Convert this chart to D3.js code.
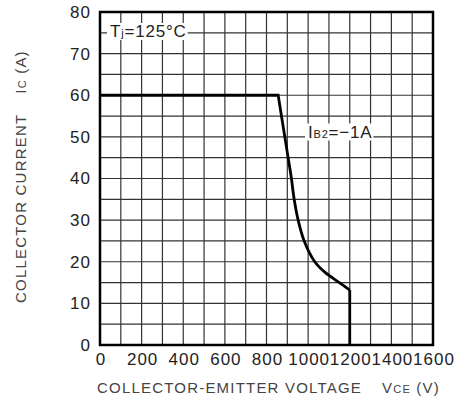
<!DOCTYPE html>
<html>
<head>
<meta charset="utf-8">
<script src="https://cdn.jsdelivr.net/npm/d3@7"></script>
<style>
  body { margin: 0; background: #fff; }
  text { font-family: "Liberation Sans", Arial, sans-serif; fill: #222; }
</style>
</head>
<body>
<div class="canvas"></div>
<script>
// data
var vce = [0, 856, 888, 920, 933, 952, 981, 1032, 1080, 1150, 1200, 1200];
var ic  = [60, 60, 50, 40, 35, 30, 25, 20, 17.5, 15, 13.2, 0];
var xTicks = [0, 200, 400, 600, 800, 1000, 1200, 1400, 1600];
var yTicks = [0, 10, 20, 30, 40, 50, 60, 70, 80];
var xGrid = d3.range(100, 1600, 100);
var yGrid = d3.range(5, 80, 5);

var plot = { left: 100, right: 433, top: 12, bottom: 345 };

var svg = d3.select(".canvas").append("svg").attr("width", 461).attr("height", 409);

var x = d3.scaleLinear().domain([0, 1600]).range([plot.left, plot.right]);
var y = d3.scaleLinear().domain([0, 80]).range([plot.bottom, plot.top]);

// grid
svg.append("g").selectAll("line").data(xGrid).join("line")
    .attr("x1", d => x(d)).attr("x2", d => x(d))
    .attr("y1", plot.top).attr("y2", plot.bottom)
    .attr("stroke", "#333").attr("stroke-width", 1.2);

svg.append("g").selectAll("line").data(yGrid).join("line")
    .attr("x1", plot.left).attr("x2", plot.right)
    .attr("y1", d => y(d)).attr("y2", d => y(d))
    .attr("stroke", "#333").attr("stroke-width", 1.2);

// labels sitting on the grid with white backing
function label(g, px, py, parts) {
    var t = g.append("text").attr("x", px).attr("y", py).attr("letter-spacing", "0.8px");
    parts.forEach(function (p) {
        t.append("tspan").attr("font-size", p[1] + "px").text(p[0]);
    });
    var b = t.node().getBBox();
    g.insert("rect", "text")
        .attr("x", b.x - 3).attr("y", b.y + 1)
        .attr("width", b.width + 4).attr("height", b.height - 2)
        .attr("fill", "#fff");
}
label(svg.append("g"), 110, 37, [["T", 17], ["j", 11], ["=125°C", 17]]);
label(svg.append("g"), 308, 137.5, [["I", 17], ["B2", 11], ["=\u22121A", 17]]);

// curve: straight drop, bend, vertical end
var pts = vce.map((v, i) => [v, ic[i]]);
var lin = d3.line().x(d => x(d[0])).y(d => y(d[1]));
var bend = d3.line().x(d => x(d[0])).y(d => y(d[1])).curve(d3.curveCatmullRom);
[lin(pts.slice(0, 4)), bend(pts.slice(3, 11)), lin(pts.slice(10))].forEach(function (p) {
    svg.append("path").attr("d", p)
        .attr("fill", "none").attr("stroke", "#000").attr("stroke-width", 2.8);
});

// frame
svg.append("rect")
    .attr("x", plot.left).attr("y", plot.top)
    .attr("width", plot.right - plot.left).attr("height", plot.bottom - plot.top)
    .attr("fill", "none").attr("stroke", "#000").attr("stroke-width", 2.5);

// axes
var xAxis = svg.append("g").attr("transform", "translate(0," + plot.bottom + ")")
    .call(d3.axisBottom(x).tickValues(xTicks).tickFormat(d3.format("d")).tickSize(0).tickPadding(8));
var yAxis = svg.append("g").attr("transform", "translate(" + plot.left + ",0)")
    .call(d3.axisLeft(y).tickValues(yTicks).tickFormat(d3.format("d")).tickSize(0).tickPadding(9));
[xAxis, yAxis].forEach(function (a) {
    a.select(".domain").remove();
    a.selectAll("text").attr("font-size", "17px").attr("letter-spacing", "1px")
        .attr("font-family", "'Liberation Sans', Arial, sans-serif").attr("fill", "#222");
});
xAxis.selectAll("text").attr("dx", "0.5px");

// axis titles
var xt = svg.append("text").attr("x", 97).attr("y", 393).attr("font-size", "15px")
    .attr("letter-spacing", "1.2px").style("fill", "#444");
xt.append("tspan").text("COLLECTOR-EMITTER VOLTAGE");
xt.append("tspan").attr("dx", 20).text("V");
xt.append("tspan").attr("font-size", "11px").text("CE");
xt.append("tspan").text(" (V)");

var yt = svg.append("text").attr("transform", "translate(26,303) rotate(-90)").attr("font-size", "15px")
    .attr("letter-spacing", "1.2px").style("fill", "#444");
yt.append("tspan").text("COLLECTOR CURRENT");
yt.append("tspan").attr("dx", 20).text("I");
yt.append("tspan").attr("font-size", "11px").text("C");
yt.append("tspan").text(" (A)");
</script>
</body>
</html>
